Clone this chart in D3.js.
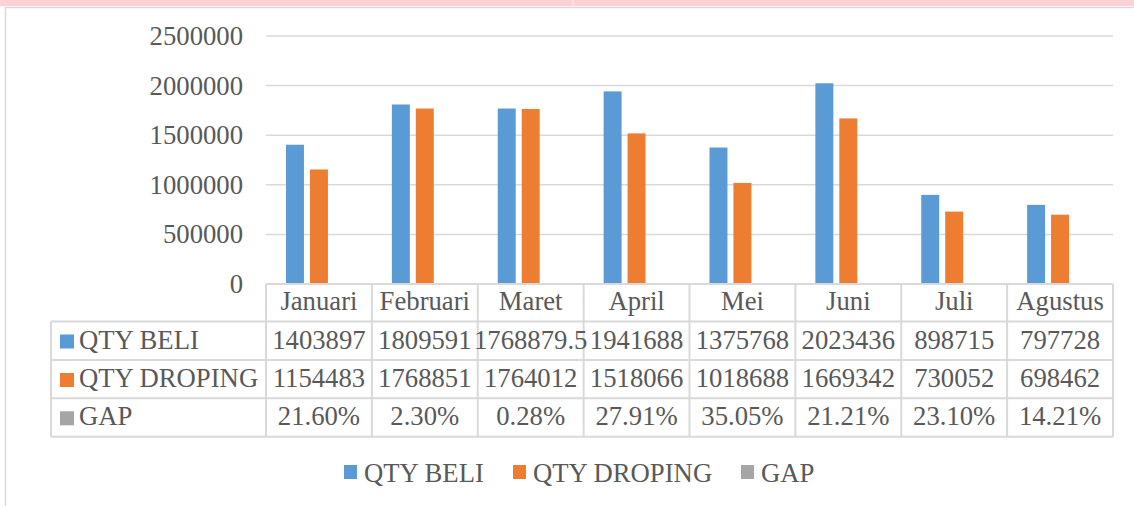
<!DOCTYPE html>
<html>
<head>
<meta charset="utf-8">
<script src="https://cdn.jsdelivr.net/npm/d3@7"></script>
<style>
  body { margin: 0; background: #fff; }
  svg text { font-family: "Liberation Serif", "Times New Roman", serif; fill: #595959; }
</style>
</head>
<body>
<svg id="chart" width="1134" height="506"></svg>
<script>
// data
const months = ["Januari", "Februari", "Maret", "April", "Mei", "Juni", "Juli", "Agustus"];
const qtyBeli = [1403897, 1809591, 1768879.5, 1941688, 1375768, 2023436, 898715, 797728];
const qtyDroping = [1154483, 1768851, 1764012, 1518066, 1018688, 1669342, 730052, 698462];
const gap = [0.2160, 0.0230, 0.0028, 0.2791, 0.3505, 0.2121, 0.2310, 0.1421];
const yTicks = [0, 500000, 1000000, 1500000, 2000000, 2500000];

const seriesNames = ["QTY BELI", "QTY DROPING", "GAP"];
const seriesValues = [qtyBeli, qtyDroping, gap];
const seriesColors = ["#5b9bd5", "#ed7d31", "#a5a5a5"];
const seriesFormat = [d => String(d), d => String(d), d => (d * 100).toFixed(2) + "%"];

const svg = d3.select("#chart");
const gridColor = "#d9d9d9";
const fontSize = "26.7px";

// pink strip on top + chart frame
svg.append("rect").attr("x", 0).attr("y", 0).attr("width", 1134).attr("height", 6).attr("fill", "#ffd1d4");
svg.append("rect").attr("x", 572).attr("y", 0).attr("width", 2).attr("height", 6).attr("fill", "#ffe2dc");
svg.append("path")
  .attr("d", "M5.5,506 V7.5 H1134")
  .attr("fill", "none").attr("stroke", gridColor).attr("stroke-width", 1.5);

const plotLeft = 266, plotRight = 1113, plotTop = 36, plotBottom = 284;

const x0 = d3.scaleBand().domain(months).range([plotLeft, plotRight]).padding(0);
const x1 = d3.scaleBand().domain(seriesNames).range([20, x0.bandwidth() - 20]).paddingInner(0.25);
const y = d3.scaleLinear().domain([0, 2500000]).range([plotBottom, plotTop]);

// gridlines
svg.append("g").selectAll("line")
  .data(yTicks.filter(d => d > 0))
  .enter().append("line")
  .attr("x1", plotLeft).attr("x2", plotRight)
  .attr("y1", d => y(d)).attr("y2", d => y(d))
  .attr("stroke", gridColor).attr("stroke-width", 1.5);

// y axis labels
const yAxis = svg.append("g")
  .attr("transform", "translate(" + plotLeft + ",0)")
  .call(d3.axisLeft(y).tickValues(yTicks).tickSize(0).tickPadding(23).tickFormat(d => String(d)));
yAxis.select(".domain").remove();
yAxis.attr("font-family", null).attr("font-size", null);
yAxis.selectAll("text").style("font-size", fontSize).attr("fill", "#595959");

// bars
seriesNames.forEach((name, s) => {
  svg.append("g").selectAll("rect")
    .data(seriesValues[s])
    .enter().append("rect")
    .attr("x", (d, i) => x0(months[i]) + x1(name))
    .attr("y", d => y(d))
    .attr("width", x1.bandwidth())
    .attr("height", d => y(0) - y(d))
    .attr("fill", seriesColors[s]);
});

// data table
const rowEdges = [284, 321.5, 360, 398.3, 436.7];
const tableLeft = 51;
const table = svg.append("g").attr("stroke", gridColor).attr("stroke-width", 2).attr("fill", "none");

// horizontal lines
table.append("line").attr("x1", plotLeft).attr("x2", plotRight).attr("y1", rowEdges[0]).attr("y2", rowEdges[0]);
rowEdges.slice(1).forEach(yy => {
  table.append("line").attr("x1", tableLeft).attr("x2", plotRight).attr("y1", yy).attr("y2", yy);
});
// vertical lines
table.append("line").attr("x1", tableLeft).attr("x2", tableLeft).attr("y1", rowEdges[1]).attr("y2", rowEdges[4]);
months.concat([null]).forEach(m => {
  const xx = m ? x0(m) : plotRight;
  table.append("line").attr("x1", xx).attr("x2", xx).attr("y1", rowEdges[0]).attr("y2", rowEdges[4]);
});

// header text
svg.append("g").selectAll("text")
  .data(months)
  .enter().append("text")
  .attr("x", d => x0(d) + x0.bandwidth() / 2)
  .attr("y", rowEdges[0] + 26)
  .attr("text-anchor", "middle")
  .style("font-size", fontSize)
  .text(d => d);

// rows
seriesNames.forEach((name, s) => {
  const baseY = rowEdges[s + 1] + 27;
  svg.append("rect")
    .attr("x", 60).attr("y", baseY - 14)
    .attr("width", 14).attr("height", 14)
    .attr("fill", seriesColors[s]);
  svg.append("text")
    .attr("x", 79).attr("y", baseY)
    .style("font-size", fontSize)
    .text(name);
  svg.append("g").selectAll("text")
    .data(seriesValues[s])
    .enter().append("text")
    .attr("x", (d, i) => x0(months[i]) + x0.bandwidth() / 2)
    .attr("y", baseY)
    .attr("text-anchor", "middle")
    .style("font-size", fontSize)
    .text(seriesFormat[s]);
});

// legend
const legendX = [344, 513, 741];
seriesNames.forEach((name, s) => {
  svg.append("rect")
    .attr("x", legendX[s]).attr("y", 465)
    .attr("width", 13).attr("height", 14)
    .attr("fill", seriesColors[s]);
  svg.append("text")
    .attr("x", legendX[s] + 20).attr("y", 482)
    .style("font-size", fontSize)
    .text(name);
});
</script>
</body>
</html>
